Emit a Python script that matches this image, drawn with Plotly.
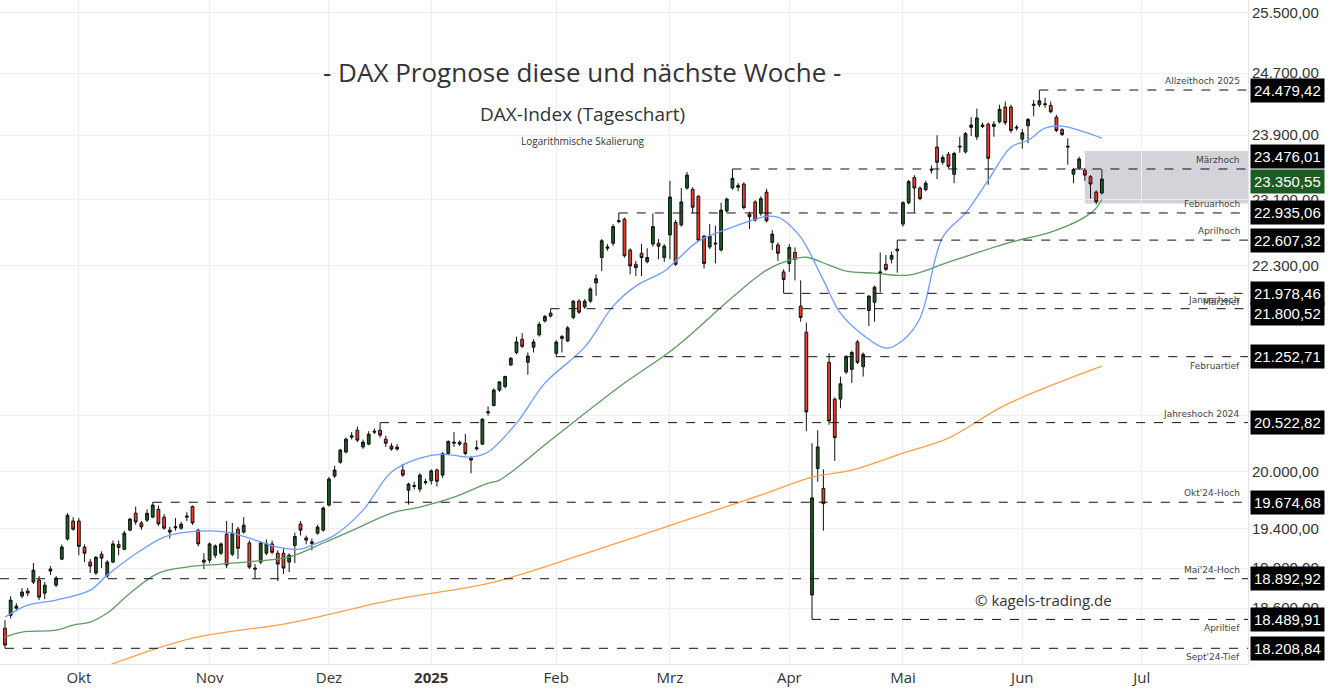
import pandas as pd
import numpy as np
import plotly.graph_objects as go

# ---------------- data ----------------
holidays = ["2024-12-24", "2024-12-25", "2024-12-26", "2024-12-31", "2025-01-01",
            "2025-04-18", "2025-04-21", "2025-05-01"]

open_ = [18404,18530,18600,18720,18770,18859,18879,18749,
         18970,18829,19090,19295,19480,19480,19213,19060,18950,19140,
         18920,19060,19240,19190,19386,19560,19460,19489,19520,19600,
         19520,19386,19410,19406,19520,19630,19386,19080,19080,19130,
         19150,19345,19140,19396,19366,19255,19000,19060,19150,19245,
         19150,19150,19060,19230,19450,19306,19250,19355,19386,19645,
         19950,20097,20205,20365,20441,20260,20290,20430,20441,20344,
         20269,20258,20013,19800,19840,19812,19880,19900,20013,19960,
         20190,20300,20290,20300,20140,20240,20290,20630,20710,20880,
         20920,21160,21300,21450,21190,21360,21500,21660,21750,21290,
         21460,21430,21700,21888,21820,21888,22100,22400,22510,22570,
         22830,22860,22490,22320,22450,22350,22560,22570,22400,22670,
         22820,22790,23240,23225,23140,22655,22525,22560,22490,22960,
         23240,23250,23290,22920,23070,22930,23190,22580,22550,22230,
         22330,22460,21830,21530,18730,20030,19820,21190,20780,20780,
         21080,21110,21420,21140,21780,21875,22210,22320,22380,22500,
         22800,23060,23370,23240,23220,23460,23750,23560,23660,23410,
         23750,23690,24000,23880,24030,24040,24010,24070,24260,24260,
         23990,23850,24020,24280,24290,24290,24280,24130,23970,23750,
         23410,23490,23460,23380,23190,23180]
high = [18483,18720,18650,18800,18800,19050,18920,18860,
        19020,18920,19240,19560,19520,19510,19240,19090,19120,19170,
        19080,19280,19280,19380,19510,19630,19480,19600,19674,19640,
        19550,19420,19510,19470,19570,19640,19400,19150,19260,19240,
        19260,19480,19460,19420,19520,19280,19040,19270,19290,19280,
        19180,19200,19150,19360,19480,19330,19300,19440,19630,19940,
        20060,20240,20360,20420,20480,20340,20430,20460,20522,20380,
        20300,20290,20080,19880,19890,19980,19920,20020,20030,20205,
        20330,20420,20330,20400,20160,20330,20570,20700,20900,20980,
        21040,21250,21480,21520,21300,21450,21650,21730,21800,21440,
        21500,21600,21900,21910,21910,22050,22200,22620,22560,22800,
        22935,22880,22510,22360,22560,22510,22930,22620,22560,23330,
        22850,23240,23440,23250,23150,22670,22800,22780,23060,23120,
        23476,23300,23310,22950,23090,23140,23230,22727,22580,22260,
        22560,22520,22130,21640,20300,20440,20020,21290,20800,21030,
        21270,21320,21440,21300,21960,22070,22460,22430,22470,22607,
        23080,23340,23400,23260,23330,23520,23900,23650,23690,23690,
        23880,23940,24130,24240,24060,24060,24080,24290,24330,24290,
        24030,23980,24120,24350,24479,24380,24330,24160,23990,23860,
        23490,23630,23490,23400,23210,23470]
low = [18209,18500,18570,18700,18720,18840,18680,18690,
       18930,18810,19080,19280,19380,19130,19060,18950,18930,19000,
       18900,19050,19130,19180,19380,19440,19390,19470,19510,19430,
       19390,19300,19380,19390,19480,19440,19220,18990,19050,19100,
       19130,19000,19120,19090,19350,18990,18900,19040,19130,19140,
       18870,18940,18960,19050,19330,19240,19180,19340,19370,19630,
       19930,20080,20190,20340,20310,20240,20280,20400,20360,20260,
       20220,20220,19940,19650,19810,19780,19860,19860,19840,19930,
       20170,20260,20270,20170,19980,20220,20280,20600,20700,20860,
       20900,21150,21280,21350,21050,21300,21480,21640,21700,21253,
       21300,21420,21680,21740,21800,21870,21950,22240,22480,22540,
       22810,22400,22200,22180,22180,22330,22530,22380,22350,22380,
       22300,22770,23220,22930,22590,22270,22500,22330,22470,22940,
       23220,23200,22980,22740,22830,22900,22820,22490,22360,21980,
       22230,22130,21650,20430,18490,19890,19380,20500,20110,20680,
       21060,20960,21170,21030,21600,21650,21990,22240,22330,22220,
       22770,23040,22940,23090,23200,23420,23350,23530,23480,23300,
       23680,23670,23890,23840,23990,23280,23880,24050,24030,23930,
       23960,23730,23800,24140,24260,24250,24180,23940,23890,23530,
       23300,23470,23330,23110,23040,23160]
close = [18240,18680,18620,18760,18750,18979,18710,18829,
         18990,18899,19213,19540,19396,19220,19150,19020,19110,19100,
         19060,19245,19210,19355,19500,19470,19420,19560,19645,19450,
         19406,19366,19420,19447,19530,19460,19245,19060,19245,19225,
         19245,19030,19355,19200,19437,19010,18990,19255,19245,19160,
         19040,19000,19130,19320,19386,19284,19265,19417,19614,19918,
         20013,20226,20344,20380,20333,20312,20398,20420,20387,20300,
         20237,20237,19960,19865,19850,19960,19890,20005,19895,20190,
         20320,20310,20310,20190,20120,20250,20560,20640,20880,20970,
         21030,21235,21420,21370,21260,21420,21620,21710,21715,21418,
         21480,21580,21888,21760,21888,22030,22150,22600,22525,22770,
         22840,22420,22300,22280,22400,22400,22770,22535,22535,23130,
         22320,23070,23400,23005,22607,22330,22655,22570,22970,23105,
         23360,23270,23000,22890,22850,23110,22840,22680,22450,22140,
         22520,22380,21700,20640,19720,20260,19660,20540,20360,20950,
         21250,21300,21190,21280,21945,22050,22230,22260,22425,22480,
         23060,23320,23240,23110,23300,23470,23560,23620,23510,23670,
         23760,23920,24030,24120,24010,23610,24040,24230,24060,23960,
         24000,23930,24100,24295,24340,24300,24200,23960,23910,23760,
         23470,23600,23400,23290,23070,23350.55]

# moving averages (candle index, value)
ma20_idx = [0,4,9,15,18,24,28,32,39,44,48,52,54,58,63,68,73,77,82,85,90,95,102,107,
            111,116,118,122,128,131,134,136,137,140,144,147,151,155,158,161,165,169,173,177,180,183,186,190,193]
ma20_val = [18512,18630,18680,18779,18929,19182,19315,19366,19366,19284,19213,19192,19233,19335,19593,19992,
            20140,20183,20151,20205,20517,20957,21360,21830,22063,22238,22356,22595,22763,22836,22896,22884,
            22848,22643,22133,21748,21497,21349,21440,21691,22643,22933,23337,23749,23837,23990,24015,23939,23862]
ma50_idx = [0,3,9,12,15,18,22,27,32,38,44,50,56,62,68,73,79,85,87,96,108,118,128,134,138,141,145,148,153,159,166,177,184,190,192,193]
ma50_val = [18317,18366,18385,18434,18464,18552,18749,18949,19010,19040,19070,19111,19254,19406,19562,19625,
            19728,19875,19907,20333,20912,21360,21934,22250,22368,22403,22309,22238,22215,22192,22345,22583,
            22703,22884,22994,23103]
ma200_idx = [18,33,50,68,86,105,123,134,142,149,158,166,176,193]
ma200_val = [18040,18307,18454,18680,18859,19203,19551,19770,19939,20013,20194,20355,20714,21146]

level_vals = [24479.42, 23476.01, 22935.06, 22607.32, 21978.46, 21800.52, 21252.71,
              20522.82, 19674.68, 18892.92, 18489.91, 18208.84]
level_names = ["Allzeithoch 2025", "Märzhoch", "Februarhoch", "Aprilhoch", "Märztief", "Januarhoch",
               "Februartief", "Jahreshoch 2024", "Okt'24-Hoch", "Mai'24-Hoch", "Apriltief", "Sept'24-Tief"]
level_start = [182, 128, 108, 157, 137, 96, 97, 66, 26, -1, 142, 0]
level_above = [True, True, True, True, False, True, False, True, True, True, False, False]
box_shift = [0, 12, 0, 0, 0, -5, 0, 0, 0, 0, 0, 0]

ytick_vals = [25500, 24700, 23900, 23100, 22300, 20600, 20000, 19400, 19000, 18600]
month_ticks = ["2024-10-01", "2024-11-01", "2024-12-02", "2025-01-02", "2025-02-03", "2025-03-03",
               "2025-04-01", "2025-05-02", "2025-06-02", "2025-07-01"]
month_text = ["Okt", "Nov", "Dez", "<b>2025</b>", "Feb", "Mrz", "Apr", "Mai", "Jun", "Jul"]
last_price = 23350.55
box_lo, box_hi = 23050, 23700

# ---------------- build ----------------
def de(v):
    s = f"{v:,.2f}"
    return s.replace(",", "X").replace(".", ",").replace("X", ".")

FONT = "Liberation Sans"
alld = pd.bdate_range("2024-08-01", "2025-06-20")
alld = alld[~alld.isin(pd.to_datetime(holidays))]
dates = alld[-len(close):]
future = pd.bdate_range("2025-06-23", periods=40)
future = future[~future.isin(pd.to_datetime(holidays))]
x_end = future[24] + pd.Timedelta(hours=17)
prev = alld[-len(close) - 1]
x_start = prev + pd.Timedelta(hours=3)

fig = go.Figure()
fig.add_trace(go.Scatter(x=[dates[i] for i in ma200_idx], y=ma200_val, mode="lines",
                         line=dict(color="#ff9f4a", width=1.3, shape="spline"), hoverinfo="skip"))
fig.add_trace(go.Scatter(x=[dates[i] for i in ma50_idx], y=ma50_val, mode="lines",
                         line=dict(color="#5f9a62", width=1.3, shape="spline"), hoverinfo="skip"))
fig.add_trace(go.Scatter(x=[dates[i] for i in ma20_idx], y=ma20_val, mode="lines",
                         line=dict(color="#6f9cff", width=1.3, shape="spline"), hoverinfo="skip"))
fig.add_trace(go.Candlestick(x=dates, open=open_, high=high, low=low, close=close,
                             increasing=dict(line=dict(color="#111", width=1), fillcolor="#1c5b22"),
                             decreasing=dict(line=dict(color="#111", width=1), fillcolor="#f2392c"),
                             whiskerwidth=0))

shapes = []
shapes.append(dict(type="rect", xref="x", yref="y", x0=dates[-4], x1=x_end, y0=box_lo, y1=box_hi,
                   fillcolor="rgba(175,175,185,0.55)", line=dict(width=0), layer="below"))
ann = []
for v, n, s, ab, bs in zip(level_vals, level_names, level_start, level_above, box_shift):
    x0 = dates[s] if s >= 0 else x_start
    shapes.append(dict(type="line", xref="x", yref="y", x0=x0, x1=x_end, y0=v, y1=v,
                       line=dict(color="#111", width=1, dash="dash")))
    ann.append(dict(xref="paper", yref="y", x=0.995, y=np.log10(v), text=n, showarrow=False,
                    xanchor="right", yanchor="middle", yshift=9 if ab else -9,
                    font=dict(size=9, color="#444", family="DejaVu Sans")))
    ann.append(dict(xref="paper", yref="y", x=1.0, y=np.log10(v), text=de(v), showarrow=False,
                    xanchor="left", yanchor="middle", xshift=2, yshift=bs, bgcolor="#000", borderpad=3,
                    font=dict(size=15, color="#fff", family=FONT)))
ann.append(dict(xref="paper", yref="y", x=1.0, y=np.log10(last_price), text=de(last_price), showarrow=False,
                xanchor="left", yanchor="middle", xshift=2, yshift=-2, bgcolor="#1c5b22", borderpad=3,
                font=dict(size=15, color="#fff", family=FONT)))
ann += [
    dict(xref="paper", yref="paper", x=0.467, y=0.892, yanchor="middle",
         text="- DAX Prognose diese und nächste Woche -",
         showarrow=False, font=dict(size=26, color="#333", family="Open Sans")),
    dict(xref="paper", yref="paper", x=0.467, y=0.829, yanchor="middle", text="DAX-Index (Tageschart)",
         showarrow=False, font=dict(size=19, color="#333", family="Open Sans")),
    dict(xref="paper", yref="paper", x=0.467, y=0.787, yanchor="middle", text="Logarithmische Skalierung",
         showarrow=False, font=dict(size=10, color="#333", family="Open Sans")),
    dict(xref="paper", yref="paper", x=0.893, y=0.097, yanchor="middle", text="© kagels-trading.de",
         showarrow=False, font=dict(size=15, color="#333", family="Open Sans")),
]

fig.update_layout(
    width=1332, height=697, margin=dict(l=0, r=84, t=0, b=33, autoexpand=False),
    paper_bgcolor="white", plot_bgcolor="white", showlegend=False,
    shapes=shapes, annotations=ann,
    xaxis=dict(type="date", range=[x_start, x_end], rangeslider=dict(visible=False), automargin=False,
               rangebreaks=[dict(bounds=["sat", "mon"]), dict(values=holidays)],
               tickvals=month_ticks, ticktext=month_text, showgrid=True, gridcolor="#eceef3",
               tickfont=dict(size=15, color="#333", family="Open Sans"), ticks="", zeroline=False,
               showline=True, linecolor="#e3e5ea"),
    yaxis=dict(type="log", side="right", range=[np.log10(18058), np.log10(25676)], automargin=False,
               tickvals=ytick_vals, ticktext=[de(v) for v in ytick_vals], showgrid=True,
               gridcolor="#eceef3", tickfont=dict(size=15, color="#333", family=FONT),
               ticks="", zeroline=False, showline=True, linecolor="#e3e5ea"),
)
fig.write_html("out.html", config={"displayModeBar": False},
               post_script="document.body.style.margin='0';document.body.style.overflow='hidden';")
